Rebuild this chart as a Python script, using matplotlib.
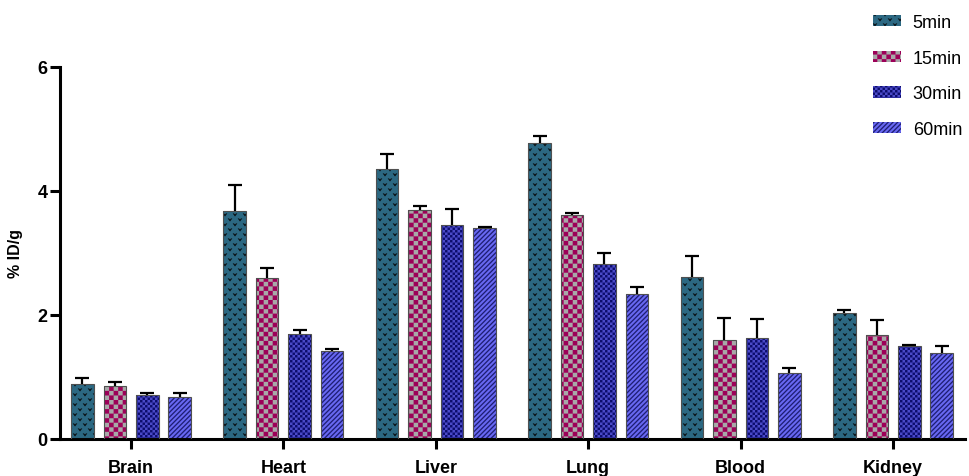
import numpy as np
import matplotlib
matplotlib.use('Agg')
import matplotlib.pyplot as plt
import matplotlib.hatch as mhatch
from matplotlib.path import Path

# ---------------- data ----------------
categories = ['Brain', 'Heart', 'Liver', 'Lung', 'Blood', 'Kidney']
series_labels = ['5min', '15min', '30min', '60min']

mean_5min = [0.88, 3.68, 4.35, 4.78, 2.61, 2.03]
mean_15min = [0.85, 2.60, 3.69, 3.61, 1.60, 1.67]
mean_30min = [0.71, 1.69, 3.45, 2.82, 1.63, 1.50]
mean_60min = [0.67, 1.42, 3.40, 2.34, 1.06, 1.38]

err_5min = [0.10, 0.42, 0.25, 0.10, 0.34, 0.05]
err_15min = [0.07, 0.16, 0.07, 0.03, 0.35, 0.25]
err_30min = [0.04, 0.07, 0.26, 0.18, 0.31, 0.01]
err_60min = [0.08, 0.03, 0.02, 0.11, 0.08, 0.12]

y_ticks = [0, 2, 4, 6]

# ---------------- custom fill patterns (hatches) ----------------
# (hatch tile = 1 inch = 100 px at dpi 100)
class _PolyHatch(mhatch.HatchPatternBase):
    key = None

    def __init__(self, hatch, density):
        self.polys = self.build() if (hatch and self.key in hatch) else []
        self.num_vertices = sum(len(p) + 1 for p in self.polys)

    def set_vertices_and_codes(self, vertices, codes):
        i = 0
        for p in self.polys:
            n = len(p)
            vertices[i:i + n] = p
            vertices[i + n] = p[0]
            codes[i] = Path.MOVETO
            codes[i + 1:i + n] = Path.LINETO
            codes[i + n] = Path.CLOSEPOLY
            i += n + 1


def _checker(n):
    s = 1.0 / n
    polys = []
    for i in range(n):
        for j in range(n):
            if (i + j) % 2 == 0:
                x0, y0 = i * s, j * s
                polys.append(np.array([[x0, y0], [x0 + s, y0],
                                       [x0 + s, y0 + s], [x0, y0 + s]]))
    return polys


class CheckerCoarse(_PolyHatch):
    key = '+'

    def build(self):
        return _checker(22)


class CheckerFine(_PolyHatch):
    key = 'x'

    def build(self):
        return _checker(40)


class Stripes(_PolyHatch):
    key = '/'

    def build(self):
        n = 21
        w = 0.36 / n
        polys = []
        for k in range(-n - 1, n + 2):
            a = k / n
            polys.append(np.array([[a, 0], [a + w, 0], [a + w + 1, 1], [a + 1, 1]]))
        return polys


class Chevrons(_PolyHatch):
    key = 'o'

    def build(self):
        nr, nc = 20, 10
        shape = np.array([[-2.2, 1.5], [-1.0, 1.5], [0.0, 0.3],
                          [1.0, 1.5], [2.2, 1.5], [0.0, -1.4]]) / 100.0
        polys = []
        for r in range(-1, nr + 2):
            off = 0.5 / nc if r % 2 else 0.0
            for c in range(-1, nc + 2):
                polys.append(shape + [c / nc + off, r / nr])
        return polys


mhatch._hatch_types = [Chevrons, CheckerCoarse, CheckerFine, Stripes]
plt.rcParams['hatch.linewidth'] = 0.05

# ---------------- styling ----------------
plt.rcParams['font.family'] = ['Liberation Sans', 'DejaVu Sans']

faces = ['#2C6882', '#A8A8A8', '#0C0C6C', '#6868F2']
pattern_cols = ['#050505', '#9C0058', '#4A4AC8', '#1C1C70']
patterns = ['o', '+', 'x', '/']

means = [mean_5min, mean_15min, mean_30min, mean_60min]
errs = [err_5min, err_15min, err_30min, err_60min]

fig = plt.figure(figsize=(9.69, 4.77), dpi=100)
ax = fig.add_axes([60 / 969, 37 / 477, 905 / 969, 372 / 477])

x = np.arange(len(categories))
width = 0.148
step = 0.213
handles = []
for k in range(len(series_labels)):
    xs = x + (k - 1.5) * step
    h = ax.bar(xs, means[k], width, color=faces[k], edgecolor=pattern_cols[k],
               linewidth=0, hatch=patterns[k], zorder=2, label=series_labels[k])
    ax.bar(xs, means[k], width, fill=False, edgecolor='#505050',
           linewidth=0.8, zorder=3)
    eb = ax.errorbar(xs, means[k], yerr=[np.zeros(len(categories)), errs[k]],
                     fmt='none', ecolor='black', elinewidth=1.6, capsize=4.8,
                     capthick=1.6, zorder=4)
    eb[1][0].set_visible(False)
    handles.append(h)

ax.set_xlim(-0.466, 5.472)
ax.set_ylim(0, 6)
ax.set_yticks(y_ticks)
ax.set_yticklabels([str(t) for t in y_ticks], fontsize=13, fontweight='bold')
ax.set_xticks(x)
ax.set_xticklabels(categories, fontsize=13, fontweight='bold')
ax.set_ylabel('% ID/g', fontsize=11.5, fontweight='bold', labelpad=10)

for s in ['top', 'right']:
    ax.spines[s].set_visible(False)
for s in ['left', 'bottom']:
    ax.spines[s].set_linewidth(2.2)
ax.tick_params(axis='y', direction='out', length=7, width=2.2, pad=2)
ax.tick_params(axis='x', direction='out', length=7.5, width=2.2, pad=7)

fig.legend(handles, series_labels, loc='upper left',
           bbox_to_anchor=(873 / 969, 1 - 15 / 477), frameon=False,
           fontsize=13, handlelength=1.55, handleheight=0.6,
           handletextpad=0.65, labelspacing=1.03, borderpad=0, borderaxespad=0)

fig.savefig('out.png', dpi=100)
